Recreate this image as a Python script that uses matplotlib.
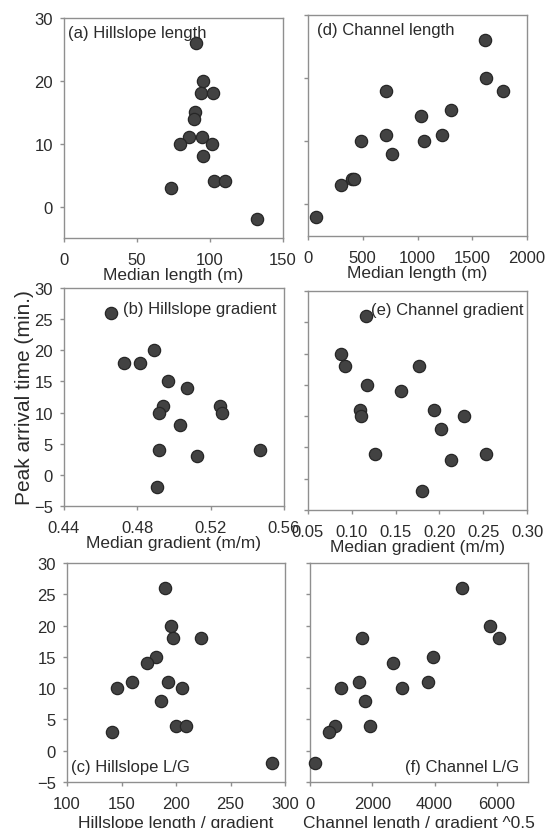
import matplotlib
matplotlib.use("Agg")
import matplotlib.pyplot as plt

plt.rcParams['font.family'] = ['Liberation Sans', 'DejaVu Sans']

# Peak arrival time (min.) shared by all panels
peak_time = [26, 20, 18, 18, 15, 14, 11, 11, 10, 10, 8, 4, 4, 3, -2]

hill_length = [90.5, 95.2, 93.9, 102, 89.5, 88.9, 85.9, 94.8, 79.3, 101.6, 95.2, 102.5, 110.2, 73.6, 132]
hill_gradient = [0.4658, 0.4893, 0.4729, 0.4815, 0.4965, 0.5069, 0.494, 0.5253, 0.4918, 0.5262,
                 0.5033, 0.492, 0.5469, 0.5127, 0.4909]
hill_lg = [189.7, 195.8, 197.3, 223, 181.4, 173.2, 159.7, 193, 145.6, 205.9, 186.6, 200.1, 209, 141, 288.2]
chan_length = [1613, 1629, 715, 1784, 1309, 1029, 712, 1221, 481, 1056, 767, 400, 420, 304, 76]
chan_gradient = [0.1166, 0.0881, 0.0922, 0.1763, 0.1174, 0.1558, 0.1097, 0.1938, 0.1109, 0.2285,
                 0.2018, 0.1265, 0.2536, 0.2132, 0.1798]
chan_lg = [4877, 5777, 1672, 6077, 3955, 2669, 1586, 3794, 997, 2947, 1779, 815, 1940, 622, 161]

W, H = 551, 829
fig = plt.figure(figsize=(W / 100, H / 100), dpi=100)

def box(l, r, t, b):
    return [l / W, 1 - b / H, (r - l) / W, (b - t) / H]

TEXT = '#2b2b2b'
SPINE = '#8f8f8f'
FS = 12

def style(ax, xlim, xticks, yticks, ylabels, xlabel, xtlabels=None, lpad=0.0):
    ax.set_xlim(*xlim)
    ax.set_ylim(-5, 30)
    ax.set_xticks(xticks)
    if xtlabels is not None:
        ax.set_xticklabels(xtlabels)
    ax.set_yticks(yticks)
    if not ylabels:
        ax.set_yticklabels([])
    for s in ax.spines.values():
        s.set_color(SPINE)
        s.set_linewidth(1.0)
    ax.tick_params(direction='out', length=3, width=1, color=SPINE,
                   labelsize=FS, labelcolor=TEXT)
    ax.tick_params(axis='x', pad=7)
    ax.tick_params(axis='y', pad=5)
    ax.set_xlabel(xlabel, fontsize=12.5, color=TEXT, labelpad=lpad)

def pts(ax, x):
    ax.scatter(x, peak_time, s=78, facecolor='#424242', edgecolor='#262626',
               linewidth=0.9, zorder=3, clip_on=False)

# (a)
ax = fig.add_axes(box(64, 283, 19, 239))
pts(ax, hill_length)
style(ax, (0, 150), [0, 50, 100, 150], [0, 10, 20, 30], True, 'Median length (m)')
ax.text(0.02, 0.97, '(a) Hillslope length', transform=ax.transAxes, fontsize=FS,
        color=TEXT, ha='left', va='top')

# (d)
ax = fig.add_axes(box(308, 527, 16, 237))
pts(ax, chan_length)
style(ax, (0, 2000), [0, 500, 1000, 1500, 2000], [0, 10, 20, 30], False, 'Median length (m)')
ax.text(0.04, 0.97, '(d) Channel length', transform=ax.transAxes, fontsize=FS,
        color=TEXT, ha='left', va='top')

# (b)
ax = fig.add_axes(box(64, 284, 289, 507))
pts(ax, hill_gradient)
style(ax, (0.44, 0.56), [0.44, 0.48, 0.52, 0.56], list(range(-5, 31, 5)), True,
      'Median gradient (m/m)', ['0.44', '0.48', '0.52', '0.56'])
ax.text(0.27, 0.94, '(b) Hillslope gradient', transform=ax.transAxes, fontsize=FS,
        color=TEXT, ha='left', va='top')
ax.set_ylabel('Peak arrival time (min.)', fontsize=15, color=TEXT, labelpad=0)

# (e)
ax = fig.add_axes(box(308, 527, 292, 511))
pts(ax, chan_gradient)
style(ax, (0.05, 0.30), [0.05, 0.10, 0.15, 0.20, 0.25, 0.30], list(range(-5, 31, 5)), False,
      'Median gradient (m/m)', ['0.05', '0.10', '0.15', '0.20', '0.25', '0.30'])
ax.text(0.985, 0.95, '(e) Channel gradient', transform=ax.transAxes, fontsize=FS,
        color=TEXT, ha='right', va='top')

# (c)
ax = fig.add_axes(box(67, 285, 564, 783))
pts(ax, hill_lg)
style(ax, (100, 300), [100, 150, 200, 250, 300], list(range(-5, 31, 5)), True,
      'Hillslope length / gradient', lpad=3)
ax.text(0.02, 0.035, '(c) Hillslope L/G', transform=ax.transAxes, fontsize=FS,
        color=TEXT, ha='left', va='bottom')

# (f)
ax = fig.add_axes(box(310, 528, 564, 783))
pts(ax, chan_lg)
style(ax, (0, 7000), [0, 2000, 4000, 6000], list(range(-5, 31, 5)), False,
      'Channel length / gradient ^0.5', lpad=3)
ax.text(0.96, 0.035, '(f) Channel L/G', transform=ax.transAxes, fontsize=FS,
        color=TEXT, ha='right', va='bottom')

fig.savefig('out.png', dpi=100, facecolor='white')
